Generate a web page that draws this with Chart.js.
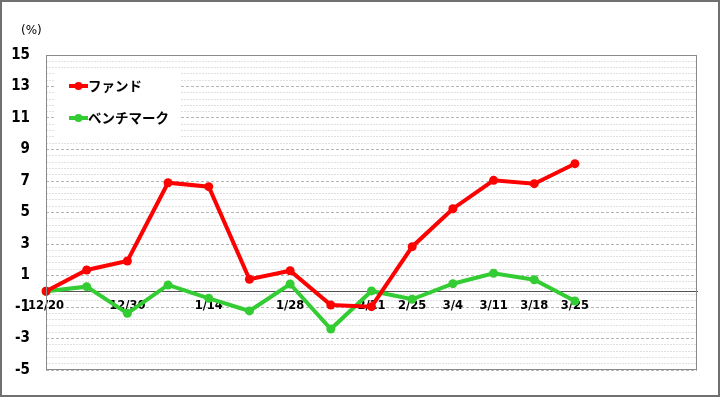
<!DOCTYPE html>
<html>
<head>
<meta charset="utf-8">
<script src="https://cdn.jsdelivr.net/npm/chart.js@4.4.0/dist/chart.umd.min.js"></script>
<style>
    body { margin: 0; background: #fff; }
    #wrap { position: relative; width: 720px; height: 397px; }
</style>
</head>
<body>
<div id="wrap"><canvas id="fundChart" width="720" height="397"></canvas></div>
<script>
// categories (blank = no label shown), last 3 slots are empty space on the axis
const dates = ["12/20", "", "12/30", "", "1/14", "", "1/28", "", "2/11", "2/25", "3/4", "3/11", "3/18", "3/25", "", "", ""];
const fund = [0, 1.35, 1.92, 6.89, 6.64, 0.76, 1.3, -0.87, -0.98, 2.83, 5.24, 7.04, 6.83, 8.1];
const benchmark = [0, 0.29, -1.4, 0.4, -0.45, -1.25, 0.46, -2.4, 0.02, -0.51, 0.48, 1.14, 0.73, -0.62];
const seriesNames = ["ファンド", "ベンチマーク"];
const seriesColors = ["#ff0000", "#33cc33"];

const yMin = -5, yMax = 15, yStep = 0.4;

const frame = {
    id: "frame",
    beforeDraw(chart) {
        const ctx = chart.ctx;
        ctx.save();
        ctx.strokeStyle = "#707070";
        ctx.lineWidth = 2;
        ctx.strokeRect(1, 1, 718, 395);
        ctx.fillStyle = "#000";
        ctx.font = "12px 'DejaVu Sans'";
        ctx.textBaseline = "middle";
        ctx.fillText("(%)", 21, 31);
        ctx.restore();
    },
    afterDatasetsDraw(chart) {
        const ctx = chart.ctx;
        const a = chart.chartArea;
        ctx.save();
        ctx.strokeStyle = "#8a8a8a";
        ctx.lineWidth = 1;
        ctx.strokeRect(a.left + 0.5, a.top + 0.5, a.right - a.left - 1, a.bottom - a.top - 1);

        // legend box inside the plot
        ctx.fillStyle = "#fff";
        ctx.fillRect(55, 72, 125, 66);
        const rows = [86, 118];
        for (let i = 0; i < seriesNames.length; i++) {
            ctx.strokeStyle = seriesColors[i];
            ctx.lineWidth = 4;
            ctx.beginPath();
            ctx.moveTo(69, rows[i]);
            ctx.lineTo(88, rows[i]);
            ctx.stroke();
            ctx.fillStyle = seriesColors[i];
            ctx.beginPath();
            ctx.arc(78.5, rows[i], 4, 0, Math.PI * 2);
            ctx.fill();
            ctx.fillStyle = "#000";
            ctx.font = "bold 13.5px 'Noto Sans CJK JP'";
            ctx.textBaseline = "middle";
            ctx.fillText(seriesNames[i], 88, rows[i]);
        }
        ctx.restore();
    }
};

new Chart(document.getElementById("fundChart"), {
    type: "line",
    data: {
        labels: dates,
        datasets: [{
            label: seriesNames[0],
            data: fund,
            borderColor: seriesColors[0],
            backgroundColor: seriesColors[0],
            borderWidth: 4,
            pointRadius: 4.5,
            pointBorderWidth: 0,
            tension: 0
        }, {
            label: seriesNames[1],
            data: benchmark,
            borderColor: seriesColors[1],
            backgroundColor: seriesColors[1],
            borderWidth: 4,
            pointRadius: 4.5,
            pointBorderWidth: 0,
            tension: 0
        }]
    },
    options: {
        responsive: false,
        animation: false,
        layout: { padding: { left: 0, top: 55, right: 23, bottom: 27 } },
        plugins: {
            legend: { display: false },
            tooltip: { enabled: false }
        },
        scales: {
            x: {
                type: "category",
                position: { y: 0 },
                offset: false,
                grid: { display: false, drawTicks: false },
                border: { display: true, color: "#555", width: 1 },
                ticks: {
                    autoSkip: false,
                    maxRotation: 0,
                    padding: 8,
                    color: "#000",
                    font: { family: "'DejaVu Sans'", size: 11.5, weight: "bold" }
                }
            },
            y: {
                min: yMin,
                max: yMax,
                afterBuildTicks(scale) {
                    const ticks = [];
                    for (let i = 0; i <= Math.round((yMax - yMin) / yStep); i++) {
                        ticks.push({ value: yMin + i * yStep });
                    }
                    scale.ticks = ticks;
                },
                afterFit(scale) { scale.width = 46; },
                grid: {
                    drawTicks: false,
                    color: (c) => (c.index % 5 === 0 ? "#b4b4b4" : "#e0e0e0"),
                    lineWidth: 1
                },
                border: {
                    display: false,
                    dash: (c) => (c.index % 5 === 0 ? [3, 2] : [2, 1])
                },
                ticks: {
                    autoSkip: false,
                    padding: 16,
                    color: "#000",
                    font: { family: "'DejaVu Sans Condensed', 'DejaVu Sans'", size: 15, weight: "bold" },
                    callback: (v, i) => (i % 5 === 0 ? String(Math.round(v)) : "")
                }
            }
        }
    },
    plugins: [frame]
});
</script>
</body>
</html>
